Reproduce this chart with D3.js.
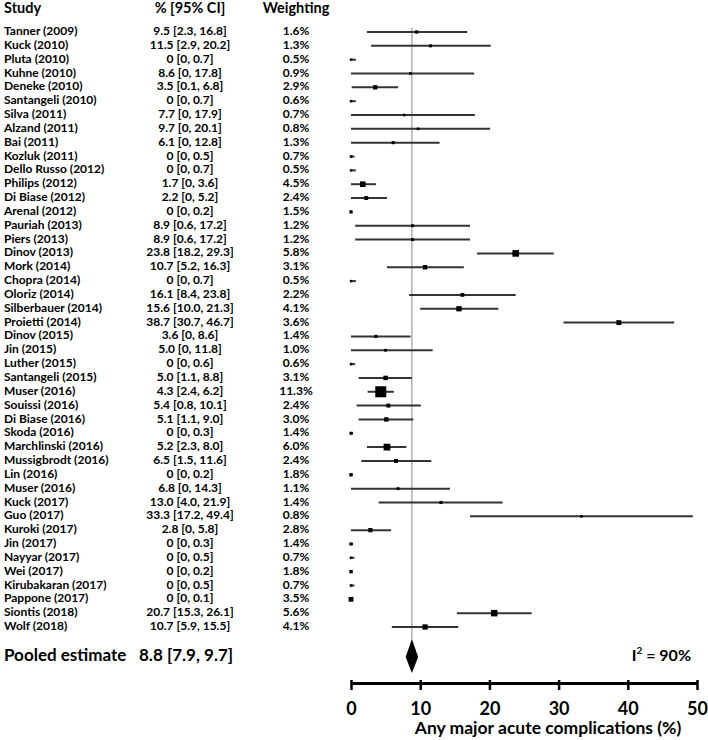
<!DOCTYPE html>
<html>
<head>
<meta charset="utf-8">
<script src="https://cdn.jsdelivr.net/npm/d3@7"></script>
<style>
  html, body { margin: 0; padding: 0; background: #fff; }
  svg { display: block; font-family: Lato, "Open Sans", sans-serif; font-weight: bold; }
</style>
</head>
<body>
<svg id="chart" width="708" height="740"></svg>
<script>
const studies = ["Tanner (2009)","Kuck (2010)","Pluta (2010)","Kuhne (2010)","Deneke (2010)","Santangeli (2010)","Silva (2011)","Alzand (2011)","Bai (2011)","Kozluk (2011)","Dello Russo (2012)","Philips (2012)","Di Biase (2012)","Arenal (2012)","Pauriah (2013)","Piers (2013)","Dinov (2013)","Mork (2014)","Chopra (2014)","Oloriz (2014)","Silberbauer (2014)","Proietti (2014)","Dinov (2015)","Jin (2015)","Luther (2015)","Santangeli (2015)","Muser (2016)","Souissi (2016)","Di Biase (2016)","Skoda (2016)","Marchlinski (2016)","Mussigbrodt (2016)","Lin (2016)","Muser (2016)","Kuck (2017)","Guo (2017)","Kuroki (2017)","Jin (2017)","Nayyar (2017)","Wei (2017)","Kirubakaran (2017)","Pappone (2017)","Siontis (2018)","Wolf (2018)"];
const estimates = [9.5,11.5,0,8.6,3.5,0,7.7,9.7,6.1,0,0,1.7,2.2,0,8.9,8.9,23.8,10.7,0,16.1,15.6,38.7,3.6,5.0,0,5.0,4.3,5.4,5.1,0,5.2,6.5,0,6.8,13.0,33.3,2.8,0,0,0,0,0,20.7,10.7];
const lower = [2.3,2.9,0,0,0.1,0,0,0,0,0,0,0,0,0,0.6,0.6,18.2,5.2,0,8.4,10.0,30.7,0,0,0,1.1,2.4,0.8,1.1,0,2.3,1.5,0,0,4.0,17.2,0,0,0,0,0,0,15.3,5.9];
const upper = [16.8,20.2,0.7,17.8,6.8,0.7,17.9,20.1,12.8,0.5,0.7,3.6,5.2,0.2,17.2,17.2,29.3,16.3,0.7,23.8,21.3,46.7,8.6,11.8,0.6,8.8,6.2,10.1,9.0,0.3,8.0,11.6,0.2,14.3,21.9,49.4,5.8,0.3,0.5,0.2,0.5,0.1,26.1,15.5];
const weights = [1.6,1.3,0.5,0.9,2.9,0.6,0.7,0.8,1.3,0.7,0.5,4.5,2.4,1.5,1.2,1.2,5.8,3.1,0.5,2.2,4.1,3.6,1.4,1.0,0.6,3.1,11.3,2.4,3.0,1.4,6.0,2.4,1.8,1.1,1.4,0.8,2.8,1.4,0.7,1.8,0.7,3.5,5.6,4.1];
const pooled = { est: 8.8, lo: 7.9, hi: 9.7 };
const heterogeneity = "90%";
const xTicks = [0,10,20,30,40,50];
const headers = ["Study", "% [95% CI]", "Weighting"];
const axisTitle = "Any major acute complications (%)";

const svg = d3.select("#chart");
const fmt = v => v === 0 ? "0" : v.toFixed(1);

const x = d3.scaleLinear().domain([0, 50]).range([351, 697]);
const y = d3.scaleLinear().domain([0, studies.length - 1]).range([32, 627]);
const size = d3.scaleLinear().domain([0, 11.3]).range([2, 11]);

const colStudy = 4, colCI = 190, colW = 296;
const yHeader = 9, yPooled = 657, yAxis = 683;
const rowFont = 12;

// headers
svg.append("text").attr("x", colStudy).attr("y", yHeader).attr("dominant-baseline", "middle")
  .attr("font-size", 14.5).text(headers[0]);
svg.append("text").attr("x", colCI).attr("y", yHeader).attr("dominant-baseline", "middle")
  .attr("text-anchor", "middle").attr("font-size", 14.5).text(headers[1]);
svg.append("text").attr("x", colW).attr("y", yHeader).attr("dominant-baseline", "middle")
  .attr("text-anchor", "middle").attr("font-size", 14.5).text(headers[2]);

// reference line
svg.append("line").attr("x1", x(pooled.est)).attr("x2", x(pooled.est))
  .attr("y1", y(0) - 4).attr("y2", yPooled - 18)
  .attr("stroke", "#888").attr("stroke-width", 1);

const rows = svg.append("g").selectAll("g").data(studies).join("g")
  .attr("transform", (d, i) => `translate(0,${y(i)})`);

rows.append("text").attr("x", colStudy).attr("dominant-baseline", "middle")
  .attr("font-size", rowFont).text(d => d);
rows.append("text").attr("x", colCI).attr("dominant-baseline", "middle").attr("text-anchor", "middle")
  .attr("font-size", rowFont).text((d, i) => `${fmt(estimates[i])} [${fmt(lower[i])}, ${fmt(upper[i])}]`);
rows.append("text").attr("x", colW).attr("dominant-baseline", "middle").attr("text-anchor", "middle")
  .attr("font-size", rowFont).text((d, i) => `${weights[i].toFixed(1)}%`);

rows.append("line").attr("x1", (d, i) => x(lower[i])).attr("x2", (d, i) => x(upper[i]))
  .attr("stroke", "#333").attr("stroke-width", 2);
rows.append("rect")
  .attr("x", (d, i) => x(estimates[i]) - size(weights[i]) / 2)
  .attr("y", (d, i) => -size(weights[i]) / 2)
  .attr("width", (d, i) => size(weights[i]))
  .attr("height", (d, i) => size(weights[i]))
  .attr("fill", "#000");

// pooled
svg.append("text").attr("x", colStudy).attr("y", yPooled).attr("dominant-baseline", "middle")
  .attr("font-size", 17).text("Pooled estimate");
svg.append("text").attr("x", 139).attr("y", yPooled).attr("dominant-baseline", "middle")
  .attr("font-size", 17).text(`${fmt(pooled.est)} [${fmt(pooled.lo)}, ${fmt(pooled.hi)}]`);
svg.append("path")
  .attr("d", `M${x(pooled.lo)},${yPooled} L${x(pooled.est)},${yPooled - 18} L${x(pooled.hi)},${yPooled} L${x(pooled.est)},${yPooled + 16} Z`)
  .attr("fill", "#000");

const i2 = svg.append("text").attr("x", 691).attr("y", yPooled).attr("dominant-baseline", "middle")
  .attr("text-anchor", "end").attr("font-size", 16);
i2.append("tspan").text("I");
i2.append("tspan").attr("font-size", 10).attr("dy", -6).text("2");
i2.append("tspan").attr("dy", 6).text(" = " + heterogeneity);

// axis
const axis = svg.append("g").attr("transform", `translate(0,${yAxis})`)
  .call(d3.axisBottom(x).tickValues(xTicks).tickSize(7).tickSizeOuter(0).tickFormat(d3.format("d")));
axis.select(".domain").attr("stroke", "#000").attr("stroke-width", 3);
axis.selectAll(".tick line").attr("stroke", "#000").attr("stroke-width", 2.5).attr("y1", -3);
axis.selectAll(".tick text").attr("font-size", 18).attr("font-family", "Lato, sans-serif")
  .attr("font-weight", "bold").attr("fill", "#000").attr("y", 32).attr("dy", 0);

svg.append("text").attr("x", 548).attr("y", 734).attr("text-anchor", "middle")
  .attr("font-size", 17.5).text(axisTitle);
</script>
</body>
</html>
